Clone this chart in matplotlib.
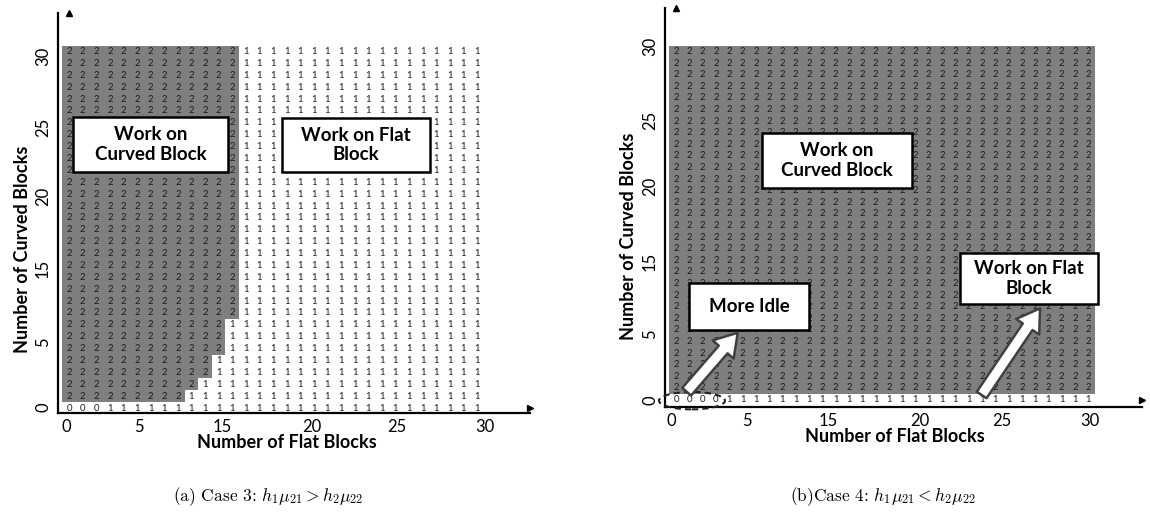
import numpy as np
import matplotlib.pyplot as plt
from matplotlib.colors import ListedColormap
from matplotlib.patches import Rectangle, Ellipse

plt.rcParams['font.family'] = ['Lato', 'DejaVu Sans']
plt.rcParams['mathtext.fontset'] = 'cm'

W, H = 1150, 519

# Case 3: number of "2" (work on curved) cells in each row, curved = 0 .. 30
case3_n_flat = 31
case3_grey_cols = [0, 9, 10, 11, 11, 12, 12, 12] + [13] * 23
case3_zero_cols = 3

# Case 4
case4_n_flat = 32
case4_grey_cols = [0] + [32] * 30
case4_zero_cols = 4

tick_labels = ['0', '5', '15', '20', '25', '30']
case3_xticks = [-0.17, 5.17, 11.23, 17.85, 24.1, 30.6]
case3_yticks = [0.03, 5.58, 11.76, 17.79, 23.63, 29.63]
case4_xticks = [-0.32, 5.32, 11.45, 18.35, 24.49, 31.08]
case4_yticks = [-0.1, 5.65, 11.88, 18.34, 24.09, 30.41]

GREY = '#7f7f7f'


def policy(n_flat, grey_cols, zero_cols):
    vals = np.ones((len(grey_cols), n_flat), dtype=int)
    for r, g in enumerate(grey_cols):
        vals[r, :g] = 2
    vals[0, :zero_cols] = 0
    return vals


def draw_grid(ax, vals):
    n_rows, n_cols = vals.shape
    ax.pcolormesh(np.arange(n_cols + 1) - 0.5, np.arange(n_rows + 1) - 0.5,
                  (vals == 2).astype(int), cmap=ListedColormap(['white', GREY]),
                  vmin=0, vmax=1, zorder=1)
    for r in range(n_rows):
        for c in range(n_cols):
            ax.text(c, r, str(vals[r, c]), ha='center', va='center',
                    fontsize=6.8, color='#1a1a1a', zorder=2)


def style_axes(ax, xticks, yticks):
    for s in ['top', 'right']:
        ax.spines[s].set_visible(False)
    for s in ['left', 'bottom']:
        ax.spines[s].set_linewidth(1.6)
        ax.spines[s].set_zorder(4)
    ax.plot(1, 0, '>k', ms=4, transform=ax.get_yaxis_transform(), clip_on=False)
    ax.plot(0, 1, '^k', ms=4, transform=ax.get_xaxis_transform(), clip_on=False)
    ax.set_xticks(xticks, tick_labels, fontsize=12)
    ax.set_yticks(yticks, tick_labels, fontsize=12, rotation=90, va='center')
    ax.tick_params(axis='x', length=0, pad=4)
    ax.tick_params(axis='y', length=0, pad=5)
    ax.set_facecolor('white')


def axis_labels(xc, yc):
    # xc, yc: pixel centres of the x and y axis titles
    fig.text(xc[0] / W, 1 - xc[1] / H, 'Number of Flat Blocks', fontsize=13,
             fontweight='bold', ha='center', va='center')
    fig.text(yc[0] / W, 1 - yc[1] / H, 'Number of Curved Blocks', fontsize=13,
             fontweight='bold', ha='center', va='center', rotation=90)


def label_box(ax, x0, x1, y0, y1, text):
    ax.add_patch(Rectangle((x0, y0), x1 - x0, y1 - y0, fc='white', ec='black',
                           lw=1.8, zorder=5))
    ax.text((x0 + x1) / 2, (y0 + y1) / 2, text, ha='center', va='center',
            fontsize=13.5, fontweight='bold', linespacing=1.2, zorder=6)


def block_arrow(ax, tail, tip):
    ax.annotate('', xy=tip, xytext=tail, zorder=7,
                arrowprops=dict(arrowstyle='simple,head_length=0.8,head_width=1.0,tail_width=0.42',
                                mutation_scale=20, fc='white', ec='#404040', lw=1.8,
                                shrinkA=0, shrinkB=0))


fig = plt.figure(figsize=(W / 100, H / 100), dpi=100)

# panel (a)
ax1 = fig.add_axes([58 / W, 1 - 413.3 / H, (530 - 58) / W, (413.3 - 12.7) / H])
draw_grid(ax1, policy(case3_n_flat, case3_grey_cols, case3_zero_cols))
ax1.set_xlim(-0.809, 33.897)
ax1.set_ylim(-0.446, 33.27)
style_axes(ax1, case3_xticks, case3_yticks)
axis_labels((287, 442), (23, 249))
label_box(ax1, 0.29, 11.69, 19.87, 24.5, 'Work on\nCurved Block')
label_box(ax1, 15.66, 26.54, 19.87, 24.41, 'Work on Flat\nBlock')

# panel (b)
ax2 = fig.add_axes([665 / W, 1 - 407.3 / H, (1141.7 - 665) / W, (407.3 - 8) / H])
draw_grid(ax2, policy(case4_n_flat, case4_grey_cols, case4_zero_cols))
ax2.set_xlim(-0.827, 35.01)
ax2.set_ylim(-0.672, 33.75)
style_axes(ax2, case4_xticks, case4_yticks)
axis_labels((895, 437), (628, 236))
label_box(ax2, 6.47, 17.74, 18.23, 22.97, 'Work on\nCurved Block')
label_box(ax2, 0.98, 10.0, 5.99, 10.04, 'More Idle')
label_box(ax2, 21.35, 31.73, 8.23, 12.63, 'Work on Flat\nBlock')
block_arrow(ax2, (0.8, 0.67), (4.64, 5.76))
block_arrow(ax2, (22.98, 0.39), (27.37, 7.86))
ax2.add_patch(Ellipse((1.2, -0.1), 4.96, 1.5, fc='none', ec='#222222', lw=1.5,
                      ls=(0, (3, 2)), zorder=6, clip_on=False))

fig.text(268 / W, 1 - 497 / H, r'(a) Case 3: $h_1\mu_{21} > h_2\mu_{22}$',
         family='cmr10', ha='center', va='center', fontsize=12.5)
fig.text(883 / W, 1 - 497 / H, r'(b)Case 4: $h_1\mu_{21} < h_2\mu_{22}$',
         family='cmr10', ha='center', va='center', fontsize=12.5)

fig.savefig('out.png', dpi=100)
